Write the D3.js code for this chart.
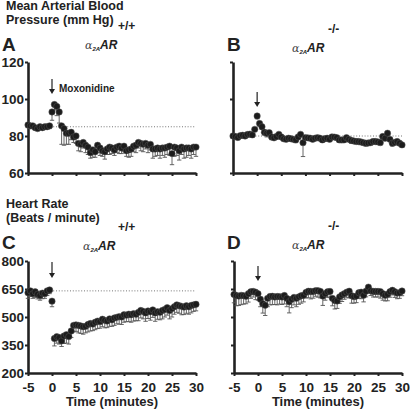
<!DOCTYPE html>
<html>
<head>
<meta charset="utf-8">
<script src="https://cdn.jsdelivr.net/npm/d3@7"></script>
<style>
  html, body { margin: 0; padding: 0; background: #fff; }
  svg { display: block; }
  text { font-family: "Liberation Sans", Arial, sans-serif; fill: #222; }
</style>
</head>
<body>
<svg id="chart" width="410" height="409"></svg>
<script>
// ---- data ----
const times = [-5,-4.5,-4,-3.5,-3,-2.5,-2,-1.5,-1,-0.5,
  0,0.5,1,1.5,2,2.5,3,3.5,4,4.5,
  5,5.5,6,6.5,7,7.5,8,8.5,9,9.5,
  10,10.5,11,11.5,12,12.5,13,13.5,14,14.5,
  15,15.5,16,16.5,17,17.5,18,18.5,19,19.5,
  20,20.5,21,21.5,22,22.5,23,23.5,24,24.5,
  25,25.5,26,26.5,27,27.5,28,28.5,29,29.5,30];

// A: MAP, alpha2A +/+
const mapWT = [86,85.5,85.5,84.5,84,85,84.5,85,85,85.5,
  93,97,96,93,85.5,84,81.5,81.5,82,79.5,
  80,76,75.5,76.5,75,74,71,72.5,71.5,75,
  73.5,72,71.5,73,74,73.5,72.5,74,74.5,73.5,
  74.5,72,72.5,73,74.5,75,76.5,76,75.5,76,
  75,75.5,73,73,73.5,73,73.5,73.5,74,74.5,
  70.5,74,73.5,72,74,73,73.5,73.5,73,74,74];
const mapWTsem = [1.5,1.5,1.5,1,1,1,1,1,1,1.5,
  4.5,3,5,6,10,9,6,6,4,3,
  4,4,4,3,4,4,3,4,3,4,
  4,3,4,3,4,3,3,3,4,3,
  3,3,4,4,3,4,3,4,4,3,
  4,3,5,4,4,5,4,5,4,5,
  6,5,4,5,4,5,5,4,5,4,5];

// B: MAP, alpha2A -/-
const mapKO = [80,79.7,79.2,80.2,80.4,80,80.8,81,80.6,83.6,
  90.8,86.8,85,82,81.5,81.8,79.5,79,79.7,80.9,
  79.5,78.5,78.2,78.8,78.5,78.2,77.9,79.5,80.9,76.4,
  79.1,79,78.8,78.2,78.8,79.1,78.8,77.9,78.5,78.8,
  78.2,79.5,79.4,79.1,77.9,77.9,77.9,79.1,78.2,77.6,
  77.3,77,77,76.8,76.4,76.1,76.2,76.4,77,77,
  76.8,76.4,79.7,78.8,81.5,78.2,76.1,76.5,77,76.1,75.2];
const mapKOsem = [1,1,1,1,1,1,1,1,1,1,
  1.5,1.5,1.5,1.5,2,1.5,1.5,1,1.5,1,
  1,1,1,1,1,1,1.5,1,1,7.5,
  1,1,1,1,1,1,1,1,1,1,
  1,1,1,1,1,1.5,1,1,1,1.5,
  1,1,1,1.5,1,1.5,1,1,1,1,
  1,1,1.5,1,1.5,1,1.5,1,1,1,1];

// C: HR, alpha2A +/+
const hrWT = [630,640,625,635,622,615,628,625,640,645,
  585,385,395,390,372,398,405,395,425,455,
  458,455,452,448,450,460,465,462,472,478,
  475,488,482,478,490,485,495,498,502,500,
  512,510,515,512,518,515,525,535,530,522,
  532,528,538,522,528,525,535,540,550,535,
  545,555,565,560,557,553,560,555,562,565,568];
const hrWTsem = [30,30,25,30,25,25,30,25,25,20,
  30,40,35,35,30,40,45,40,35,35,
  35,40,40,40,35,40,40,35,40,40,
  35,40,40,35,40,35,40,35,40,40,
  40,35,40,40,40,35,45,40,40,45,
  40,45,40,45,40,40,45,40,40,45,
  45,40,40,40,45,40,40,40,40,35,35];

// D: HR, alpha2A -/-
const hrKO = [621,615,612,616,614,611,625,635,637,633,
  625,595,571,563,600,610,611,607,610,609,
  607,615,600,582,595,605,600,608,614,616,
  632,638,637,636,641,641,637,612,625,635,
  637,600,588,586,608,618,625,633,638,614,
  609,612,630,633,616,638,660,640,637,637,
  637,636,625,616,622,636,643,635,628,630,639];
const hrKOsem = [45,55,50,50,45,40,45,35,30,40,
  35,40,50,55,45,45,45,40,45,40,
  40,45,45,60,45,40,45,40,40,35,
  30,35,40,35,30,35,35,50,35,30,
  30,40,45,40,35,35,30,30,35,40,
  35,35,30,35,35,30,30,25,30,30,
  30,35,35,30,35,30,25,30,30,30,25];

const xTicks = [-5,0,5,10,15,20,25,30];
const xTickLabels = ["-5","0","5","10","15","20","25","30"];
const mapTicks = [60,80,100,120];
const hrTicks = [200,350,500,650,800];

// ---- drawing ----
const svg = d3.select("#chart");
const INK = "#222";

function panel(cfg) {
  const x = d3.scaleLinear().domain([-5, 30]).range(cfg.xr);
  const y = d3.scaleLinear().domain(cfg.yd).range(cfg.yr);
  const g = svg.append("g");

  // reference dotted line
  if (cfg.ref !== null) {
    g.append("line")
      .attr("x1", x(-5)).attr("x2", x(30))
      .attr("y1", y(cfg.ref)).attr("y2", y(cfg.ref))
      .attr("stroke", "#666").attr("stroke-width", 0.9)
      .attr("stroke-dasharray", "1,1.8");
  }

  // axes
  const xa = g.append("g").attr("transform", `translate(0,${cfg.yr[0]})`)
    .call(d3.axisBottom(x).tickValues(xTicks).tickSize(3).tickSizeOuter(0)
      .tickFormat((d, i) => cfg.xLabels ? xTickLabels[i] : ""));
  const ya = g.append("g").attr("transform", `translate(${cfg.xr[0]},0)`)
    .call(d3.axisLeft(y).tickValues(cfg.yTicks).tickSize(3).tickSizeOuter(0)
      .tickFormat(cfg.yLabels ? d3.format("d") : ""));
  [xa, ya].forEach(a => {
    a.select(".domain").attr("stroke", INK).attr("stroke-width", 2.6);
    a.selectAll(".tick line").attr("stroke", INK).attr("stroke-width", 2);
    a.selectAll(".tick text").attr("fill", INK)
      .style("font-size", "13.5px").style("font-weight", "bold")
      .style("font-family", '"Liberation Sans", Arial, sans-serif');
  });
  xa.selectAll(".tick text").attr("dy", "0.95em");
  ya.selectAll(".tick text").attr("x", -4);

  const data = times.map((t, i) => ({ t, v: cfg.vals[i], e: cfg.sem[i] }));

  // error bars (lower)
  const eb = g.append("g").attr("stroke", "#555").attr("stroke-width", 0.9);
  eb.selectAll("line.v").data(data).join("line").attr("class", "v")
    .attr("x1", d => x(d.t)).attr("x2", d => x(d.t))
    .attr("y1", d => y(d.v)).attr("y2", d => y(d.v - d.e));
  eb.selectAll("line.c").data(data).join("line").attr("class", "c")
    .attr("x1", d => x(d.t) - 2.2).attr("x2", d => x(d.t) + 2.2)
    .attr("y1", d => y(d.v - d.e)).attr("y2", d => y(d.v - d.e));

  // points
  g.append("g").selectAll("circle").data(data).join("circle")
    .attr("cx", d => x(d.t)).attr("cy", d => y(d.v)).attr("r", 3.2)
    .attr("fill", "#1c1c1c").attr("stroke", "#555").attr("stroke-width", 0.5);

  // arrow at t = 0
  const ax = x(0);
  g.append("line").attr("x1", ax).attr("x2", ax)
    .attr("y1", cfg.arrow[0]).attr("y2", cfg.arrow[1] - 4)
    .attr("stroke", INK).attr("stroke-width", 1.2);
  g.append("path")
    .attr("d", `M${ax - 3},${cfg.arrow[1] - 5} L${ax + 3},${cfg.arrow[1] - 5} L${ax},${cfg.arrow[1]} Z`)
    .attr("fill", INK);

  // panel letter
  g.append("text").attr("x", cfg.letterX).attr("y", cfg.letterY)
    .style("font-size", "19px").style("font-weight", "bold").text(cfg.letter);

  // genotype label
  const gt = g.append("text").attr("x", cfg.gtX).attr("y", cfg.gtY);
  gt.append("tspan").style("font-family", '"DejaVu Serif", serif').style("font-style", "italic")
    .style("font-size", "11px").style("fill", "#444").text("α");
  gt.append("tspan").attr("dy", 2).style("font-size", "6px").style("font-weight", "bold")
    .style("font-style", "italic").text("2A");
  gt.append("tspan").attr("dy", -2).style("font-size", "12px").style("font-weight", "bold")
    .style("font-style", "italic").text("AR");
  g.append("text").attr("x", cfg.supX).attr("y", cfg.gtY - 19)
    .style("font-size", "12px").style("font-weight", "bold").text(cfg.sup);
}

// section headings
const hdr = (txt, yy) => svg.append("text").attr("x", 6).attr("y", yy)
  .style("font-size", "12.5px").style("font-weight", "bold").text(txt);
hdr("Mean Arterial Blood", 10);
hdr("Pressure (mm Hg)", 24);
hdr("Heart Rate", 208);
hdr("(Beats / minute)", 222);

panel({ letter: "A", letterX: 2, letterY: 51, xr: [28, 196], yd: [60, 120], yr: [173, 62],
  yTicks: mapTicks, yLabels: true, xLabels: false, vals: mapWT, sem: mapWTsem, ref: 85,
  arrow: [79, 94], gtX: 85, gtY: 49, supX: 118, sup: "+/+" });
panel({ letter: "B", letterX: 227, letterY: 51, xr: [233, 402], yd: [60, 120], yr: [173, 62],
  yTicks: mapTicks, yLabels: false, xLabels: false, vals: mapKO, sem: mapKOsem, ref: 80,
  arrow: [92, 107], gtX: 292, gtY: 52, supX: 328, sup: "-/-" });
panel({ letter: "C", letterX: 2, letterY: 249, xr: [28, 196], yd: [200, 800], yr: [373, 261],
  yTicks: hrTicks, yLabels: true, xLabels: true, vals: hrWT, sem: hrWTsem, ref: 640,
  arrow: [262, 278], gtX: 83, gtY: 250, supX: 118, sup: "+/+" });
panel({ letter: "D", letterX: 227, letterY: 249, xr: [234, 402], yd: [200, 800], yr: [373, 261],
  yTicks: hrTicks, yLabels: false, xLabels: true, vals: hrKO, sem: hrKOsem, ref: null,
  arrow: [266, 281], gtX: 292, gtY: 249, supX: 328, sup: "-/-" });

// moxonidine label
const xA = d3.scaleLinear().domain([-5, 30]).range([28, 196]);
svg.append("text").attr("x", xA(0) + 7).attr("y", 92)
  .style("font-size", "10px").style("font-weight", "bold").text("Moxonidine");

// x axis titles
svg.append("text").attr("x", 112).attr("y", 406).attr("text-anchor", "middle")
  .style("font-size", "13px").style("font-weight", "bold").text("Time (minutes)");
svg.append("text").attr("x", 318).attr("y", 406).attr("text-anchor", "middle")
  .style("font-size", "13px").style("font-weight", "bold").text("Time (minutes)");
</script>
</body>
</html>
